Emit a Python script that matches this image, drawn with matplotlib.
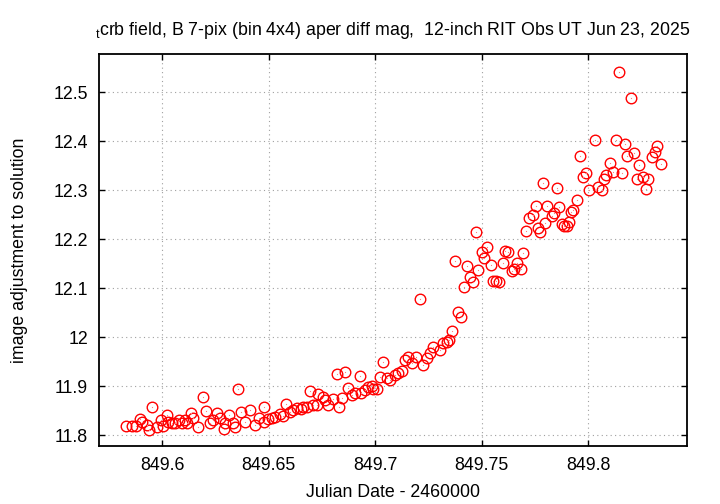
import matplotlib
matplotlib.use("Agg")
import matplotlib.pyplot as plt

# Data (JD - 2460000, magnitude)
jd = [
    849.5831, 849.5859, 849.5878, 849.5897, 849.5906, 849.5930, 849.5939, 849.5953,
    849.5977, 849.5995, 849.6005, 849.6023, 849.6028, 849.6047, 849.6061, 849.6080,
    849.6094, 849.6108, 849.6117, 849.6136, 849.6146, 849.6169, 849.6192, 849.6207,
    849.6225, 849.6239, 849.6258, 849.6272, 849.6291, 849.6296, 849.6315, 849.6333,
    849.6343, 849.6357, 849.6371, 849.6390, 849.6413, 849.6437, 849.6455, 849.6479,
    849.6481, 849.6498, 849.6516, 849.6531, 849.6554, 849.6568, 849.6582, 849.6601,
    849.6615, 849.6634, 849.6653, 849.6662, 849.6681, 849.6695, 849.6709, 849.6728,
    849.6732, 849.6756, 849.6765, 849.6779, 849.6803, 849.6822, 849.6831, 849.6845,
    849.6859, 849.6873, 849.6892, 849.6906, 849.6930, 849.6932, 849.6953, 849.6967,
    849.6986, 849.6991, 849.7009, 849.7024, 849.7038, 849.7056, 849.7070, 849.7094,
    849.7108, 849.7127, 849.7141, 849.7155, 849.7174, 849.7193, 849.7211, 849.7225,
    849.7244, 849.7258, 849.7272, 849.7305, 849.7319, 849.7338, 849.7347, 849.7362,
    849.7376, 849.7390, 849.7404, 849.7418, 849.7432, 849.7446, 849.7460, 849.7474,
    849.7484, 849.7502, 849.7512, 849.7526, 849.7545, 849.7554, 849.7568, 849.7582,
    849.7601, 849.7610, 849.7624, 849.7643, 849.7653, 849.7667, 849.7686, 849.7695,
    849.7709, 849.7723, 849.7742, 849.7756, 849.7765,
    849.7775, 849.7789, 849.7798, 849.7808, 849.7831, 849.7840, 849.7855, 849.7864,
    849.7878, 849.7887, 849.7901, 849.7911, 849.7920, 849.7930, 849.7948, 849.7962,
    849.7977, 849.7991, 849.8005, 849.8033, 849.8047, 849.8066, 849.8075, 849.8085,
    849.8103, 849.8117, 849.8132, 849.8146, 849.8160, 849.8174, 849.8183, 849.8202,
    849.8216, 849.8230, 849.8239, 849.8258, 849.8272, 849.8282, 849.8300, 849.8315,
    849.8324, 849.8343,
]
mag = [
    11.818, 11.818, 11.818, 11.833, 11.827, 11.820, 11.810, 11.857,
    11.816, 11.831, 11.818, 11.841, 11.827, 11.824, 11.824, 11.831,
    11.824, 11.831, 11.824, 11.845, 11.835, 11.816, 11.878, 11.849,
    11.824, 11.831, 11.845, 11.835, 11.812, 11.824, 11.841, 11.824,
    11.816, 11.894, 11.847, 11.827, 11.851, 11.820, 11.835, 11.857,
    11.827, 11.833, 11.835, 11.837, 11.843, 11.839, 11.863, 11.847,
    11.851, 11.855, 11.853, 11.857, 11.857, 11.890, 11.861, 11.861,
    11.884, 11.878, 11.871, 11.861, 11.873, 11.924, 11.857, 11.876,
    11.929, 11.896, 11.882, 11.886, 11.920, 11.886, 11.892, 11.898,
    11.900, 11.894, 11.894, 11.918, 11.949, 11.916, 11.912, 11.922,
    11.927, 11.931, 11.953, 11.959, 11.947, 11.959, 12.078, 11.943,
    11.957, 11.967, 11.980, 11.973, 11.988, 11.990, 11.994, 12.012,
    12.155, 12.051, 12.041, 12.102, 12.145, 12.122, 12.112, 12.214,
    12.137, 12.173, 12.161, 12.184, 12.147, 12.114, 12.114, 12.112,
    12.151, 12.176, 12.173, 12.135, 12.139, 12.151, 12.139, 12.171,
    12.216, 12.243, 12.249, 12.267, 12.222,
    12.214, 12.314, 12.233, 12.267, 12.247, 12.253, 12.304, 12.265,
    12.231, 12.227, 12.227, 12.235, 12.255, 12.259, 12.280, 12.369,
    12.327, 12.335, 12.300, 12.402, 12.306, 12.300, 12.322, 12.331,
    12.355, 12.337, 12.402, 12.541, 12.335, 12.394, 12.369, 12.488,
    12.376, 12.322, 12.351, 12.327, 12.302, 12.322, 12.367, 12.378,
    12.390, 12.353,
]

x_ticks = [849.6, 849.65, 849.7, 849.75, 849.8]
x_tick_labels = ['849.6', '849.65', '849.7', '849.75', '849.8']
y_ticks = [11.8, 11.9, 12.0, 12.1, 12.2, 12.3, 12.4, 12.5]
y_tick_labels = ['11.8', '11.9', '12', '12.1', '12.2', '12.3', '12.4', '12.5']

plt.rcParams['font.family'] = ['Liberation Sans', 'DejaVu Sans']
plt.rcParams['mathtext.fontset'] = 'custom'
plt.rcParams['mathtext.rm'] = 'Liberation Sans'
fs = 12.8

fig = plt.figure(figsize=(7.2, 5.04), dpi=100)
ax = fig.add_axes([0.1375, 0.1151, 0.8167, 0.7778])

# open circles with a small dot at the centre (gnuplot style)
ax.plot(jd, mag, linestyle='none', marker='o', markersize=7.6, markerfacecolor='none',
        markeredgecolor='red', markeredgewidth=1.0, zorder=3)
ax.plot(jd, mag, linestyle='none', marker='s', markersize=0.8, color='#ff8080',
        markeredgewidth=0, zorder=3)

ax.set_xlim(849.5704, 849.8465)
ax.set_ylim(11.7776, 12.5776)
ax.set_xticks(x_ticks)
ax.set_xticklabels(x_tick_labels)
ax.set_yticks(y_ticks)
ax.set_yticklabels(y_tick_labels)

ax.tick_params(direction='in', length=4.5, width=1.0, top=True, right=True,
               labelsize=fs, pad=8)
ax.grid(True, color='#a0a0a0', linestyle=(0, (1, 3)), linewidth=0.8)
for s in ax.spines.values():
    s.set_linewidth(1.3)

ax.set_xlabel('Julian Date - 2460000', fontsize=fs, labelpad=7)
ax.set_ylabel('image adjustment to solution', fontsize=fs, labelpad=18)
ax.set_title(r'$_{\mathrm{t}}$crb field, B 7-pix (bin 4x4) aper diff mag,  12-inch RIT Obs UT Jun 23, 2025',
             fontsize=fs, pad=14)

fig.savefig('out.png', dpi=100)
